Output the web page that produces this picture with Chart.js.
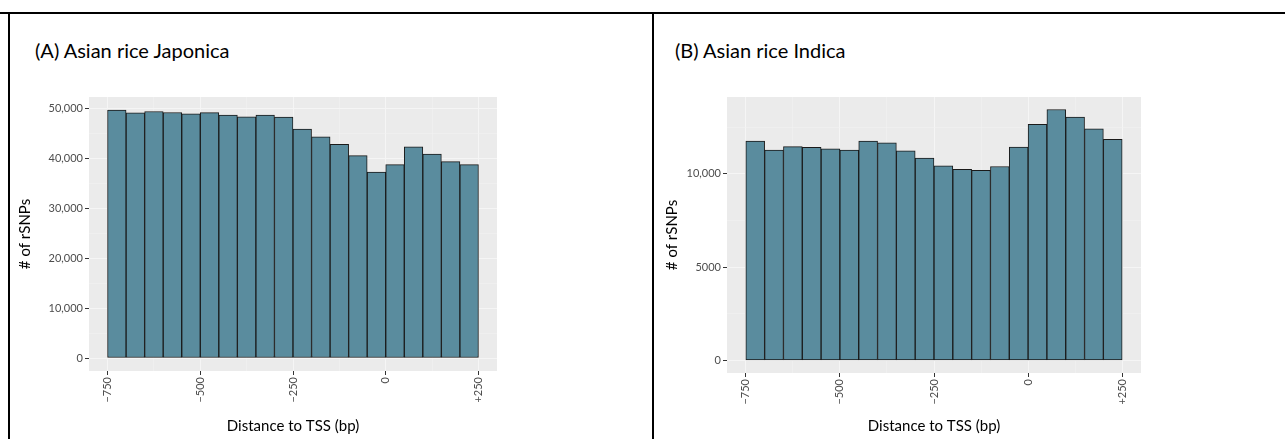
<!DOCTYPE html>
<html lang="en">
<head>
  <meta charset="UTF-8">
  <title>rSNPs vs distance to TSS</title>
  <script src="https://cdn.jsdelivr.net/npm/chart.js"></script>
  <style>
    html, body { margin: 0; padding: 0; background: #fff; }
    body { width: 1285px; height: 439px; position: relative; overflow: hidden; font-family: Lato, "Open Sans", sans-serif; }
    .line { position: absolute; background: #000; }
    .panel-title { position: absolute; top: 38px; margin: 0; font-size: 20px; font-weight: normal; color: #000; white-space: nowrap; }
    canvas { position: absolute; }
  </style>
</head>
<body>
  <div class="line" style="left:0; top:12px; width:1285px; height:2px;"></div>
  <div class="line" style="left:8px; top:12px; width:2px; height:427px;"></div>
  <div class="line" style="left:652px; top:12px; width:2px; height:427px;"></div>

  <h2 class="panel-title" style="left:35px;">(A) Asian rice Japonica</h2>
  <h2 class="panel-title" style="left:675px;">(B) Asian rice Indica</h2>

  <canvas id="chartA" width="630" height="359" style="left:10px; top:80px; width:630px; height:359px;"></canvas>
  <canvas id="chartB" width="630" height="359" style="left:655px; top:80px; width:630px; height:359px;"></canvas>

  <script>
    // bin centres (bp), 50 bp wide bins from -750 to +250
    const binCenters = [-725, -675, -625, -575, -525, -475, -425, -375, -325, -275,
                        -225, -175, -125, -75, -25, 25, 75, 125, 175, 225];

    // counts
    const japonicaCounts = [49660, 49140, 49400, 49200, 48940, 49160, 48660, 48340, 48660, 48260,
                            45860, 44340, 42800, 40540, 37260, 38740, 42340, 40860, 39340, 38740];
    const indicaCounts = [11750, 11270, 11450, 11410, 11340, 11270, 11750, 11660, 11230, 10840,
                          10430, 10230, 10180, 10390, 11430, 12640, 13440, 13040, 12410, 11840];

    // axis breaks
    const xMajor = [-750, -500, -250, 0, 250];
    const xMinor = [-625, -375, -125, 125];
    const xLabels = ['\u2212750', '\u2212500', '\u2212250', '0', '+250'];

    const yMajorA = [0, 10000, 20000, 30000, 40000, 50000];
    const yMinorA = [5000, 15000, 25000, 35000, 45000];
    const yLabelsA = ['0', '10,000', '20,000', '30,000', '40,000', '50,000'];

    const yMajorB = [0, 5000, 10000];
    const yMinorB = [2500, 7500, 12500];
    const yLabelsB = ['0', '5000', '10,000'];

    const xTitle = 'Distance to TSS (bp)';
    const yTitle = '# of rSNPs';

    Chart.defaults.font.family = 'Lato, "Open Sans", sans-serif';

    // grey panel behind the bars, like ggplot
    const panelBg = {
      id: 'panelBg',
      beforeDraw(chart) {
        const a = chart.chartArea;
        const ctx = chart.ctx;
        ctx.save();
        ctx.fillStyle = '#EBEBEB';
        ctx.fillRect(a.left, a.top, a.right - a.left, a.bottom - a.top);
        ctx.restore();
      }
    };

    function makeChart(id, counts, yMin, yMax, yMajor, yMinor, yLabels, opts) {
      const xBreaks = xMajor.concat(xMinor).sort((a, b) => a - b);
      const yBreaks = yMajor.concat(yMinor).sort((a, b) => a - b);
      const gridColor = (major) => (c) => major.includes(c.tick.value) ? '#F5F5F5' : '#F1F1F1';
      const gridWidth = (major) => (c) => major.includes(c.tick.value) ? 1 : 0.6;
      const tickColor = (major) => (c) => major.includes(c.tick.value) ? '#333333' : 'rgba(0,0,0,0)';

      return new Chart(document.getElementById(id), {
        type: 'bar',
        data: {
          datasets: [{
            data: binCenters.map((x, i) => ({ x: x, y: counts[i] })),
            backgroundColor: '#5A8C9E',
            borderColor: '#1A1A1A',
            borderWidth: 1,
            borderSkipped: false,
            barPercentage: 1,
            categoryPercentage: 1
          }]
        },
        options: {
          responsive: false,
          animation: false,
          events: [],
          layout: { padding: { top: 17, right: opts.rightPad, left: 0, bottom: 0 } },
          plugins: { legend: { display: false }, tooltip: { enabled: false }, title: { display: false } },
          scales: {
            x: {
              type: 'linear',
              min: -800,
              max: 300,
              offset: false,
              afterBuildTicks: (s) => { s.ticks = xBreaks.map(v => ({ value: v })); },
              afterFit: (s) => { s.height = opts.xHeight; },
              border: { display: false },
              grid: {
                offset: false,
                color: gridColor(xMajor),
                lineWidth: gridWidth(xMajor),
                tickColor: tickColor(xMajor),
                tickWidth: 1,
                tickLength: 4
              },
              ticks: {
                autoSkip: false,
                minRotation: 90,
                maxRotation: 90,
                padding: 2,
                color: '#4D4D4D',
                font: { size: 11 },
                callback: (v) => { const k = xMajor.indexOf(v); return k >= 0 ? xLabels[k] : ''; }
              },
              title: { display: true, text: xTitle, color: '#000', font: { size: 15 }, padding: { top: 0, bottom: 4 } }
            },
            y: {
              min: yMin,
              max: yMax,
              afterBuildTicks: (s) => { s.ticks = yBreaks.map(v => ({ value: v })); },
              afterFit: (s) => { s.width = opts.yWidth; },
              border: { display: false },
              grid: {
                color: gridColor(yMajor),
                lineWidth: gridWidth(yMajor),
                tickColor: tickColor(yMajor),
                tickWidth: 1,
                tickLength: 4
              },
              ticks: {
                autoSkip: false,
                padding: 2,
                color: '#4D4D4D',
                font: { size: 11 },
                callback: (v) => { const k = yMajor.indexOf(v); return k >= 0 ? yLabels[k] : ''; }
              },
              title: { display: true, text: yTitle, color: '#000', font: { size: 15 }, padding: { top: opts.yTitlePad, bottom: 0 } }
            }
          }
        },
        plugins: [panelBg]
      });
    }

    makeChart('chartA', japonicaCounts, -2600, 52300, yMajorA, yMinorA, yLabelsA,
              { rightPad: 143, xHeight: 68, yWidth: 79, yTitlePad: 6 });
    makeChart('chartB', indicaCounts, -670, 14110, yMajorB, yMinorB, yLabelsB,
              { rightPad: 144, xHeight: 66, yWidth: 72, yTitlePad: 8 });
  </script>
</body>
</html>
